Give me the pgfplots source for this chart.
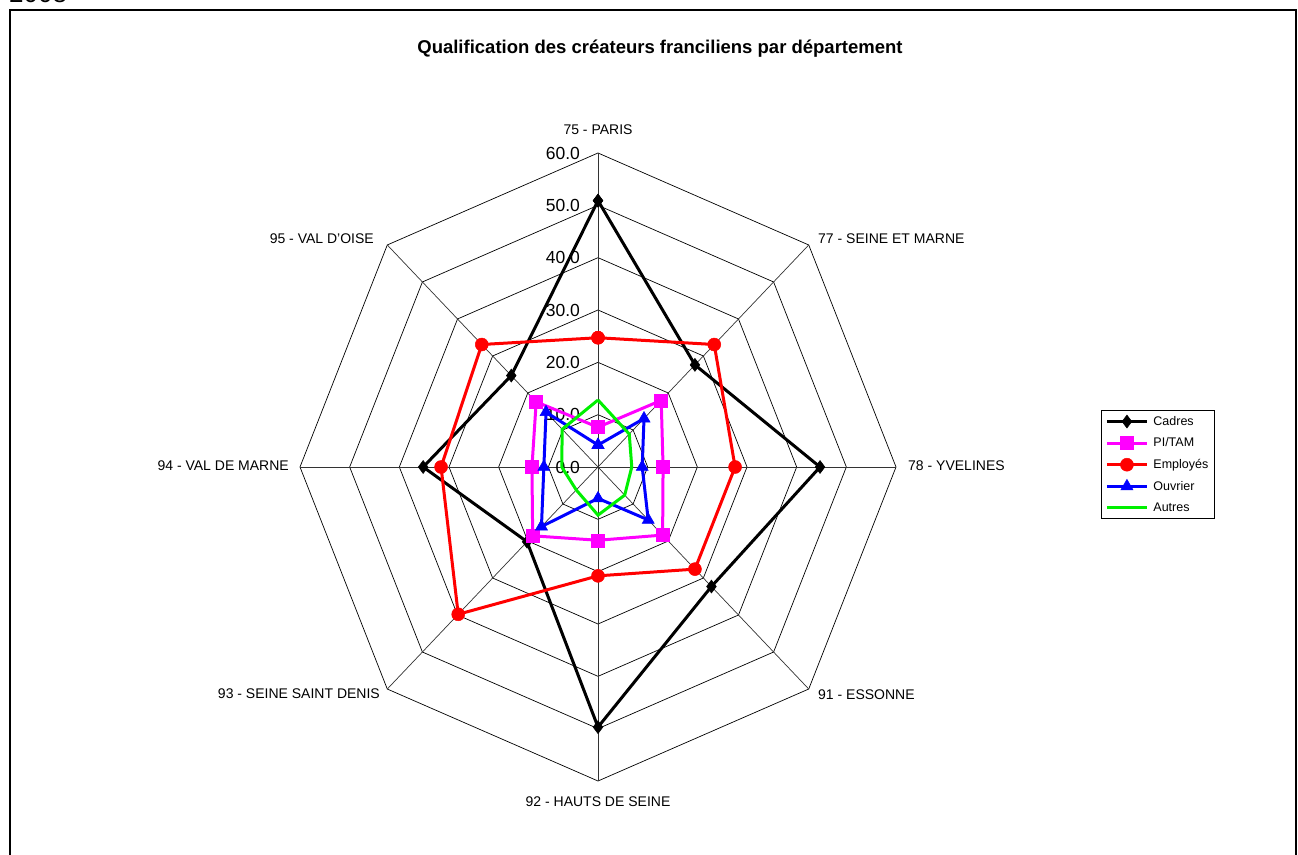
\documentclass[border=0pt]{standalone}
\usepackage{fontspec}
\setmainfont{Liberation Sans}
\usepackage{pgfplots}
\pgfplotsset{compat=1.18}
\definecolor{cMag}{RGB}{255,0,255}
\definecolor{cRed}{RGB}{255,0,0}
\definecolor{cBlue}{RGB}{0,0,255}
\definecolor{cGreen}{RGB}{0,240,0}
\begin{document}
\begin{tikzpicture}[x=1pt,y=1pt]
\useasboundingbox (0,0) rectangle (1298,854);
\clip (0,0) rectangle (1298,854);
\node[anchor=base west, inner sep=0pt, font=\fontsize{26}{30}\selectfont] at (9,851) {2008};
\draw[line width=2pt] (10,-5) -- (10,844) -- (1296,844) -- (1296,-5);
\node[font=\fontsize{18.5}{22}\selectfont\bfseries] at (660,805) {Qualification des créateurs franciliens par département};
\begin{scope}[every node/.style={font=\fontsize{14}{16}\selectfont, inner sep=0pt}]
\node[anchor=center] at (598,724) {75 - PARIS};
\node[anchor=west] at (818,615) {77 - SEINE ET MARNE};
\node[anchor=west] at (908,388) {78 - YVELINES};
\node[anchor=west] at (818,159) {91 - ESSONNE};
\node[anchor=center] at (598,52) {92 - HAUTS DE SEINE};
\node[anchor=east] at (380,160) {93 - SEINE SAINT DENIS};
\node[anchor=east] at (289,388) {94 - VAL DE MARNE};
\node[anchor=east] at (374,615) {95 - VAL D'OISE};
\end{scope}
\begin{axis}[
  at={(598pt,387pt)}, anchor=center,
  scale only axis, width=596pt, height=628pt,
  xmin=-60, xmax=60, ymin=-60, ymax=60,
  hide axis, clip=false,
  legend style={at={(1.344,0.591)}, anchor=north west, draw=black, line width=0.8pt,
    font=\fontsize{12.5}{15}\selectfont, row sep=7pt, inner xsep=4pt, inner ysep=4pt,
    cells={anchor=west}, /tikz/every odd column/.append style={column sep=3pt}},
  legend image code/.code={\draw[mark repeat=2,mark phase=2] plot coordinates {(0pt,0pt) (20pt,0pt) (40pt,0pt)};},
]
% grid octagons
\pgfplotsinvokeforeach{10,20,30,40,50,60}{
  \addplot[black, line width=0.7pt, forget plot, data cs=polar] coordinates {(90,#1)(45,#1)(0,#1)(-45,#1)(-90,#1)(-135,#1)(-180,#1)(-225,#1)(-270,#1)};
}
\pgfplotsinvokeforeach{90,45,0,-45,-90,-135,-180,-225}{
  \addplot[black!80, line width=0.7pt, forget plot, data cs=polar] coordinates {(#1,0)(#1,60)};
}
% radial labels
\begin{scope}[every node/.style={font=\fontsize{17.5}{20}\selectfont, inner sep=0pt, anchor=east}]
\node at (axis cs:-3.6,60) {60.0};
\node at (axis cs:-3.6,50) {50.0};
\node at (axis cs:-3.6,40) {40.0};
\node at (axis cs:-3.6,30) {30.0};
\node at (axis cs:-3.6,20) {20.0};
\node at (axis cs:-3.6,10) {10.0};
\node at (axis cs:-3.6,0) {0.0};
\end{scope}
% data: angle (category), value
\addplot[black, line width=3pt, mark=diamond*, mark size=6.5pt, mark options={solid, line width=0.5pt}, data cs=polar] coordinates {
(90,50.9)(45,27.6)(0,44.7)(-45,32.3)(-90,49.7)(-135,20.2)(-180,35.2)(-225,24.7)(-270,50.9)};
\addlegendentry{Cadres}
\addplot[cMag, line width=3pt, mark=square*, mark size=6.5pt, mark options={solid, line width=0.5pt}, data cs=polar] coordinates {
(90,7.6)(45,18.0)(0,13.1)(-45,18.4)(-90,14.0)(-135,18.6)(-180,13.3)(-225,17.6)(-270,7.6)};
\addlegendentry{PI/TAM}
\addplot[cRed, line width=3pt, mark=*, mark size=6.5pt, mark options={solid, line width=0.5pt}, data cs=polar] coordinates {
(90,24.7)(45,33.1)(0,27.6)(-45,27.6)(-90,20.8)(-135,39.8)(-180,31.6)(-225,33.1)(-270,24.7)};
\addlegendentry{Employés}
\addplot[cBlue, line width=3pt, mark=triangle*, mark size=7pt, mark options={solid, line width=0.5pt}, data cs=polar] coordinates {
(90,4.2)(45,13.1)(0,8.9)(-45,14.3)(-90,6.0)(-135,16.1)(-180,10.9)(-225,14.8)(-270,4.2)};
\addlegendentry{Ouvrier}
\addplot[cGreen, line width=3pt, no marks, data cs=polar] coordinates {
(90,12.8)(45,8.9)(0,6.8)(-45,7.6)(-90,9.2)(-135,6.2)(-180,7.3)(-225,10.2)(-270,12.8)};
\addlegendentry{Autres}
\end{axis}
\end{tikzpicture}
\end{document}
